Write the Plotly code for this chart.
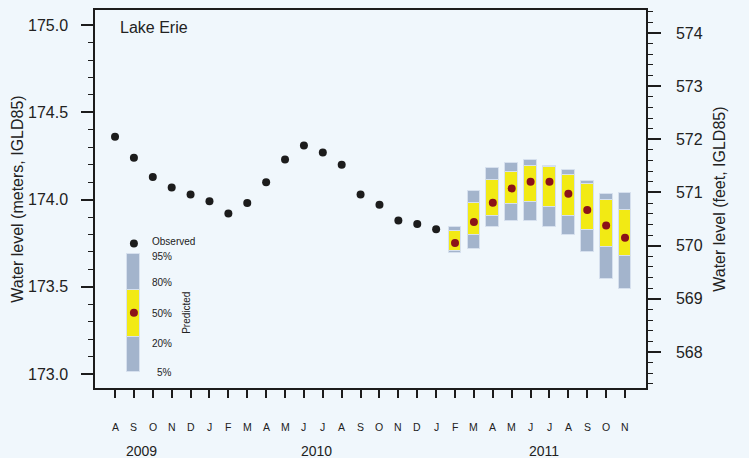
import plotly.graph_objects as go

# ---------------- data ----------------
MONTH_LABELS = ["A", "S", "O", "N", "D", "J", "F", "M", "A", "M", "J", "J", "A", "S",
                "O", "N", "D", "J", "F", "M", "A", "M", "J", "J", "A", "S", "O", "N"]
MONTH_INDEX = list(range(len(MONTH_LABELS)))   # Aug 2009 .. Nov 2011

YEARS = ["2009", "2010", "2011"]
YEAR_POS = [1.38, 10.65, 22.7]

# observed monthly mean levels (m, IGLD85), Aug 2009 - Jan 2011
OBS_X = list(range(0, 18))
OBS_Y = [174.36, 174.24, 174.13, 174.07, 174.03, 173.99, 173.92, 173.98, 174.10,
         174.23, 174.31, 174.27, 174.20, 174.03, 173.97, 173.88, 173.86, 173.83]

# predicted percentiles, Feb 2011 - Nov 2011
PRED_X = list(range(18, 28))
P95 = [173.845, 174.049, 174.179, 174.209, 174.228, 174.192, 174.169, 174.108, 174.030, 174.038]
P80 = [173.820, 173.979, 174.110, 174.159, 174.190, 174.188, 174.140, 174.091, 173.998, 173.939]
P50 = [173.751, 173.872, 173.982, 174.064, 174.102, 174.102, 174.034, 173.941, 173.851, 173.781]
P20 = [173.707, 173.796, 173.906, 173.977, 173.986, 173.958, 173.906, 173.827, 173.726, 173.677]
P05 = [173.696, 173.716, 173.845, 173.878, 173.878, 173.845, 173.796, 173.697, 173.547, 173.486]

# legend key (drawn in data units)
KEY_X = 1.0
KEY_OBS_Y = 173.748
KEY_P95, KEY_P80, KEY_P50, KEY_P20, KEY_P05 = 173.688, 173.484, 173.351, 173.212, 173.013
KEY_LABELS = ["95%", "80%", "50%", "20%", "5%"]
KEY_LABEL_Y = [173.673, 173.524, 173.349, 173.178, 173.007]
KEY_LABEL_X = [2.5, 2.5, 2.5, 2.5, 2.6]

M_TO_FT = 1 / 0.3048
Y_RANGE = [172.920, 175.087]

# ---------------- style ----------------
BG = "#f0f7fc"
GREY = "#a3b4cc"
YELLOW = "#f2ea14"
RED = "#8b1219"
DARK = "#1c1c1c"
EDGE = "rgba(214,224,238,1)"
FONT = "Liberation Sans, Arial, sans-serif"
BAR_W = 0.68

fig = go.Figure()

fig.add_trace(go.Bar(x=PRED_X, y=[a - b for a, b in zip(P95, P05)], base=P05, width=BAR_W,
                     marker=dict(color=GREY, line=dict(color=EDGE, width=1)),
                     hoverinfo="skip", showlegend=False))
fig.add_trace(go.Bar(x=PRED_X, y=[a - b for a, b in zip(P80, P20)], base=P20, width=BAR_W,
                     marker=dict(color=YELLOW, line=dict(color=EDGE, width=1)),
                     hoverinfo="skip", showlegend=False))
fig.add_trace(go.Scatter(x=PRED_X, y=P50, mode="markers",
                         marker=dict(color=RED, size=8), showlegend=False))
fig.add_trace(go.Scatter(x=OBS_X, y=OBS_Y, mode="markers",
                         marker=dict(color=DARK, size=8), showlegend=False))
# invisible copy in feet so the right-hand axis is drawn
fig.add_trace(go.Scatter(x=OBS_X, y=[v * M_TO_FT for v in OBS_Y], yaxis="y2",
                         mode="markers", marker=dict(opacity=0), hoverinfo="skip",
                         showlegend=False))

# legend key
fig.add_trace(go.Bar(x=[KEY_X], y=[KEY_P95 - KEY_P05], base=[KEY_P05], width=BAR_W,
                     marker=dict(color=GREY, line=dict(color=EDGE, width=1)),
                     hoverinfo="skip", showlegend=False))
fig.add_trace(go.Bar(x=[KEY_X], y=[KEY_P80 - KEY_P20], base=[KEY_P20], width=BAR_W,
                     marker=dict(color=YELLOW, line=dict(color=EDGE, width=1)),
                     hoverinfo="skip", showlegend=False))
fig.add_trace(go.Scatter(x=[KEY_X], y=[KEY_P50], mode="markers",
                         marker=dict(color=RED, size=8), showlegend=False))
fig.add_trace(go.Scatter(x=[KEY_X], y=[KEY_OBS_Y], mode="markers",
                         marker=dict(color=DARK, size=8), showlegend=False))

ann = []
ann.append(dict(x=1.85, y=KEY_OBS_Y + 0.01, xref="x", yref="y", text="Observed",
                showarrow=False, xanchor="left", yanchor="middle",
                font=dict(size=10, color="#222", family=FONT)))
for lx, ly, lt in zip(KEY_LABEL_X, KEY_LABEL_Y, KEY_LABELS):
    ann.append(dict(x=lx, y=ly, xref="x", yref="y", text=lt, showarrow=False,
                    xanchor="center", yanchor="middle",
                    font=dict(size=10, color="#222", family=FONT)))
ann.append(dict(x=3.81, y=KEY_P50, xref="x", yref="y", text="Predicted", showarrow=False,
                textangle=-90, xanchor="center", yanchor="middle",
                font=dict(size=10, color="#222", family=FONT)))

# month & year labels
for mx, ml in zip(MONTH_INDEX, MONTH_LABELS):
    ann.append(dict(x=mx, y=-0.1034, xref="x", yref="paper", text=ml, showarrow=False,
                    xanchor="center", yanchor="middle",
                    font=dict(size=10.5, color="#222", family=FONT)))
for yx, yl in zip(YEAR_POS, YEARS):
    ann.append(dict(x=yx, y=-0.166, xref="x", yref="paper", text=yl, showarrow=False,
                    xanchor="center", yanchor="middle",
                    font=dict(size=14, color="#222", family=FONT)))

# title and axis titles
ann.append(dict(x=0.0417, y=0.955, xref="paper", yref="paper", text="Lake Erie",
                showarrow=False, xanchor="left", yanchor="middle",
                font=dict(size=16, color="#222", family=FONT)))
ann.append(dict(x=-0.142, y=0.5, xref="paper", yref="paper",
                text="Water level (meters, IGLD85)", showarrow=False, textangle=-90,
                xanchor="center", yanchor="middle",
                font=dict(size=16, color="#222", family=FONT)))
ann.append(dict(x=1.132, y=0.5, xref="paper", yref="paper",
                text="Water level (feet, IGLD85)", showarrow=False, textangle=-90,
                xanchor="center", yanchor="middle",
                font=dict(size=16, color="#222", family=FONT)))

fig.update_layout(
    width=749, height=458,
    margin=dict(l=95, r=103, t=8, b=70),
    paper_bgcolor=BG, plot_bgcolor=BG,
    barmode="overlay", bargap=0,
    showlegend=False,
    annotations=ann,
    font=dict(family=FONT, color="#222"),
    xaxis=dict(range=[-1.06, 28.11], tickmode="array", tickvals=MONTH_INDEX,
               showticklabels=False, ticks="outside", ticklen=8, tickwidth=1.5,
               tickcolor=DARK, showline=True, linecolor=DARK, linewidth=1.5,
               mirror=True, showgrid=False, zeroline=False, fixedrange=True),
    yaxis=dict(range=Y_RANGE, tickmode="linear", tick0=173.0, dtick=0.5, tickformat=".1f",
               ticks="outside", ticklen=12, tickwidth=1.5, tickcolor=DARK,
               minor=dict(dtick=0.1, tick0=173.0, ticks="outside", ticklen=5,
                          tickwidth=1, tickcolor=DARK, showgrid=False),
               showline=True, linecolor=DARK, linewidth=1.5, showgrid=False,
               zeroline=False, tickfont=dict(size=16, color="#222", family=FONT),
               ticklabelstandoff=10),
    yaxis2=dict(range=[v * M_TO_FT for v in Y_RANGE], overlaying="y", side="right",
                tickmode="linear", tick0=568, dtick=1, ticks="outside", ticklen=13,
                tickwidth=1.5, tickcolor=DARK,
                minor=dict(dtick=0.2, tick0=568, ticks="outside", ticklen=5,
                           tickwidth=1, tickcolor=DARK, showgrid=False),
                showline=True, linecolor=DARK, linewidth=1.5, showgrid=False,
                zeroline=False, tickfont=dict(size=16, color="#222", family=FONT),
                ticklabelstandoff=12),
)

fig.write_html("out.html", config={"displayModeBar": False},
               post_script="document.body.style.margin='0';"
                           "document.body.style.overflow='hidden';"
                           "document.body.style.background='" + BG + "';")
